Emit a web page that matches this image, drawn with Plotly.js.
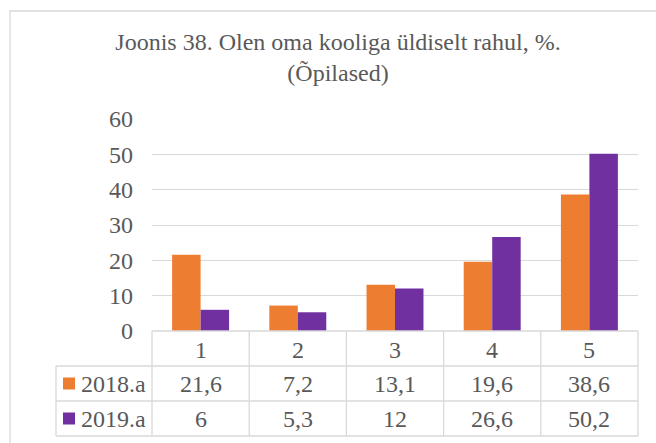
<!DOCTYPE html>
<html>
<head>
<meta charset="utf-8">
<script src="https://cdn.plot.ly/plotly-3.0.1.min.js"></script>
<style>
  body { margin: 0; background: #fff; }
  #chart { width: 656px; height: 443px; }
</style>
</head>
<body>
<div id="chart"></div>
<script>
var categories = ['1', '2', '3', '4', '5'];
var seriesNames = ['2018.a', '2019.a'];
var values2018 = [21.6, 7.2, 13.1, 19.6, 38.6];
var values2019 = [6, 5.3, 12, 26.6, 50.2];
var seriesValues = [values2018, values2019];
var seriesColors = ['#ED7D31', '#7030A0'];

// page geometry (px)
var W = 656, H = 443;
var mL = 152, mR = 18, mT = 119, mB = 112;
var plotW = W - mL - mR, plotH = H - mT - mB;
function px2x(p) { return (p - mL) / plotW; }
function px2y(p) { return (H - mB - p) / plotH; }

var textColor = '#595959', lineColor = '#d9d9d9';
function serifFont(size) {
  return {family: 'Liberation Serif', size: size || 24, color: textColor};
}

var data = seriesNames.map(function (name, k) {
  return {
    type: 'bar',
    name: name,
    x: categories,
    y: seriesValues[k],
    marker: {color: seriesColors[k], line: {width: 0}},
    hoverinfo: 'none'
  };
});

// data table under the axis
var tableTop = H - mB;          // header row starts at the zero line
var rowH = 35;
var legendLeft = 56;
var tableBottom = tableTop + 3 * rowH;
var shapes = [];
var annotations = [];

function hline(yPx, x0, x1) {
  shapes.push({type: 'line', xref: 'paper', yref: 'paper',
    x0: x0, x1: x1, y0: px2y(yPx), y1: px2y(yPx),
    line: {color: lineColor, width: 1.3}});
}
function vline(xPaper, y0Px, y1Px) {
  shapes.push({type: 'line', xref: 'paper', yref: 'paper',
    x0: xPaper, x1: xPaper, y0: px2y(y0Px), y1: px2y(y1Px),
    line: {color: lineColor, width: 1.3}});
}

hline(tableTop, 0, 1);
for (var r = 1; r <= 3; r++) hline(tableTop + r * rowH, px2x(legendLeft), 1);
vline(px2x(legendLeft), tableTop + rowH, tableBottom);
for (var i = 0; i <= categories.length; i++) {
  vline(i / categories.length, tableTop, tableBottom);
}

// header row: category labels (x given as category index)
categories.forEach(function (c, j) {
  annotations.push({xref: 'x', yref: 'paper', x: j, y: px2y(tableTop + rowH / 2 + 1),
    text: c, showarrow: false, font: serifFont(), xanchor: 'center', yanchor: 'middle'});
});

// series rows: legend key + name + values
seriesNames.forEach(function (name, k) {
  var cy = tableTop + rowH * (k + 1.5);
  shapes.push({type: 'rect', xref: 'paper', yref: 'paper',
    x0: px2x(63), x1: px2x(75), y0: px2y(cy - 6), y1: px2y(cy + 6),
    fillcolor: seriesColors[k], line: {width: 0}});
  annotations.push({xref: 'paper', yref: 'paper', x: px2x(79), y: px2y(cy),
    text: name, showarrow: false, font: serifFont(), xanchor: 'left', yanchor: 'middle'});
  seriesValues[k].forEach(function (v, j) {
    annotations.push({xref: 'x', yref: 'paper', x: j, y: px2y(cy),
      text: String(v).replace('.', ','), showarrow: false, font: serifFont(),
      xanchor: 'center', yanchor: 'middle'});
  });
});

// chart area border
shapes.push({type: 'rect', xref: 'paper', yref: 'paper',
  x0: px2x(10), x1: px2x(668), y0: px2y(11), y1: px2y(460),
  line: {color: lineColor, width: 1.3}, fillcolor: 'rgba(0,0,0,0)'});

var layout = {
  width: W,
  height: H,
  margin: {l: mL, r: mR, t: mT, b: mB},
  paper_bgcolor: '#fff',
  plot_bgcolor: '#fff',
  font: serifFont(),
  title: {
    text: 'Joonis 38. Olen oma kooliga üldiselt rahul, %.<br>(Õpilased)',
    font: serifFont(24),
    xref: 'container', x: 338 / W, xanchor: 'center',
    yref: 'container', y: 1 - 50 / H, yanchor: 'top'
  },
  showlegend: false,
  barmode: 'group',
  bargap: 0.414,
  bargroupgap: 0,
  xaxis: {
    type: 'category',
    range: [-0.5, categories.length - 0.5],
    showticklabels: false,
    showgrid: false,
    zeroline: false,
    showline: false,
    fixedrange: true
  },
  yaxis: {
    range: [0, 60],
    dtick: 10,
    showgrid: true,
    gridcolor: lineColor,
    gridwidth: 1.3,
    zeroline: false,
    showline: false,
    tickfont: serifFont(),
    ticklabelstandoff: 18,
    fixedrange: true
  },
  shapes: shapes,
  annotations: annotations
};

Plotly.newPlot('chart', data, layout, {displayModeBar: false});
</script>
</body>
</html>
